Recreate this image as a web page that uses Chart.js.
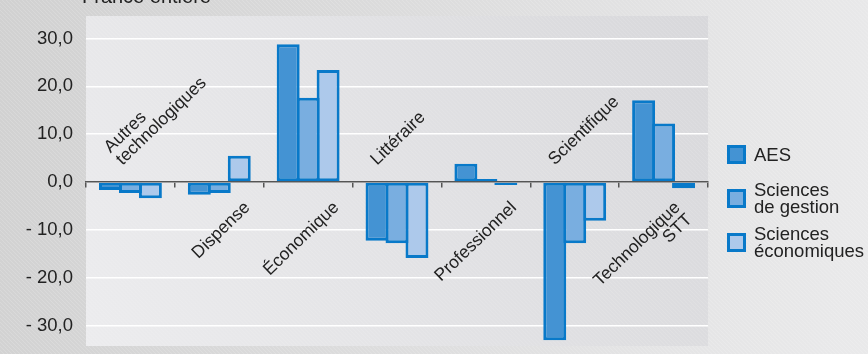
<!DOCTYPE html>
<html lang="fr">
  <head>
    <meta charset="UTF-8" />
    <title>Écarts par série de bac</title>
    <style>
      html,
      body {
        margin: 0;
        padding: 0;
        background-color: #dedede;
      }
      .chart-container {
        position: relative;
        width: 868px;
        height: 354px;
      }
    </style>
  </head>
  <body>
    <div class="chart-container">
      <canvas id="ecartChart"></canvas>
    </div>
    <script src="https://cdn.jsdelivr.net/npm/chart.js"></script>
    <script>
      const categories = [
        ["Autres", "technologiques"],
        ["Dispense"],
        ["Économique"],
        ["Littéraire"],
        ["Professionnel"],
        ["Scientifique"],
        ["Technologique", "STT"],
      ];
      const seriesNames = [["AES"], ["Sciences", "de gestion"], ["Sciences", "économiques"]];
      const aesValues = [-1.7, -2.7, 28.8, -12.3, 3.8, -33.1, 17.1];
      const gestionValues = [-2.3, -2.3, 17.6, -12.8, 0.3, -12.8, 12.2];
      const ecoValues = [-3.4, 5.5, 23.4, -15.9, -0.3, -8.1, -1.3];
      const yTickValues = [30, 20, 10, 0, -10, -20, -30];
      const yTickLabels = ["30,0", "20,0", "10,0", "0,0", "- 10,0", "- 20,0", "- 30,0"];
      const titleText = "France entière";

      const FONT = '"Liberation Sans", Arial, sans-serif';
      Chart.defaults.font.family = FONT;

      function hatch(ctx, x, y, w, h, color) {
        ctx.save();
        ctx.beginPath();
        ctx.rect(x, y, w, h);
        ctx.clip();
        ctx.strokeStyle = color;
        ctx.lineWidth = 1;
        for (let k = -h; k < w; k += 4) {
          ctx.beginPath();
          ctx.moveTo(x + k, y);
          ctx.lineTo(x + k + h, y + h);
          ctx.stroke();
        }
        ctx.restore();
      }

      // background, plot area and clipped title
      const backdrop = {
        id: "backdrop",
        beforeDraw(chart) {
          const { ctx, width, height, chartArea: a } = chart;
          ctx.save();
          let g = ctx.createLinearGradient(0, 0, width, height * 0.4);
          g.addColorStop(0, "#d1d1d1");
          g.addColorStop(1, "#e9e9ea");
          ctx.fillStyle = g;
          ctx.fillRect(0, 0, width, height);
          hatch(ctx, 0, 0, width, height, "rgba(255,255,255,0.16)");

          g = ctx.createLinearGradient(a.left, a.bottom, a.right, a.top);
          g.addColorStop(0, "#ececee");
          g.addColorStop(1, "#d8d8db");
          ctx.fillStyle = g;
          ctx.fillRect(a.left, a.top, a.width, a.height);
          hatch(ctx, a.left, a.top, a.width, a.height, "rgba(255,255,255,0.12)");

          ctx.fillStyle = "#222";
          ctx.font = "20px " + FONT;
          ctx.textAlign = "left";
          ctx.textBaseline = "alphabetic";
          ctx.fillText(titleText, 82, 2.5);
          ctx.restore();
        },
      };

      // rotated category names, on the side opposite to the bars
      const categoryLabels = {
        id: "categoryLabels",
        afterDatasetsDraw(chart) {
          const { ctx } = chart;
          const x = chart.scales.x;
          const zero = chart.scales.y.getPixelForValue(0);
          const ang = (-44 * Math.PI) / 180;
          ctx.save();
          ctx.font = "17.5px " + FONT;
          ctx.fillStyle = "#222";
          ctx.textBaseline = "alphabetic";
          categories.forEach((lines, i) => {
            const sum = aesValues[i] + gestionValues[i] + ecoValues[i];
            const cx = x.getPixelForValue(i);
            const extra = lines.length - 1;
            ctx.save();
            if (sum > 0) {
              ctx.translate(cx + 31.5 - 14 * extra, zero + 26.5);
              ctx.rotate(ang);
              ctx.textAlign = "right";
              lines.forEach((t, k) => ctx.fillText(t, 0, k * 17));
            } else {
              ctx.translate(cx - 20 + 12 * extra, zero - 16.3);
              ctx.rotate(ang);
              ctx.textAlign = "left";
              lines.forEach((t, k) => ctx.fillText(t, 0, (k - extra) * 17));
            }
            ctx.restore();
          });
          ctx.restore();
        },
      };

      const legendBlock = {
        id: "legendBlock",
        afterDraw(chart) {
          const { ctx, chartArea } = chart;
          const left = chartArea.right + 19;
          ctx.save();
          ctx.font = "18.5px " + FONT;
          chart.data.datasets.forEach((ds, i) => {
            const cy = 154.5 + i * 44;
            ctx.fillStyle = ds.borderColor;
            ctx.fillRect(left, cy - 9.5, 19, 19);
            ctx.fillStyle = ds.backgroundColor;
            ctx.fillRect(left + 3, cy - 6.5, 13, 13);
            ctx.fillStyle = "#222";
            ctx.textAlign = "left";
            ctx.textBaseline = "middle";
            const lines = seriesNames[i];
            lines.forEach((t, k) => {
              ctx.fillText(t, left + 27, cy + 1 + (k - (lines.length - 1) / 2) * 17);
            });
          });
          ctx.restore();
        },
      };

      const borderBlue = "#0879c9";
      const makeSet = (i, values, fill) => ({
        label: seriesNames[i].join(" "),
        data: values,
        backgroundColor: fill,
        borderColor: borderBlue,
        borderWidth: 3,
        borderSkipped: false,
        minBarLength: 3,
        categoryPercentage: 0.674,
        barPercentage: 1.15,
      });

      new Chart(document.getElementById("ecartChart"), {
        type: "bar",
        data: {
          labels: categories.map((l) => l.join(" ")),
          datasets: [
            makeSet(0, aesValues, "#4493d3"),
            makeSet(1, gestionValues, "#79aee0"),
            makeSet(2, ecoValues, "#adc9eb"),
          ],
        },
        options: {
          responsive: true,
          maintainAspectRatio: false,
          animation: false,
          layout: { padding: { top: 16, right: 160, bottom: 8, left: 0 } },
          plugins: {
            legend: { display: false },
            tooltip: { enabled: false },
          },
          scales: {
            x: {
              position: { y: 0 },
              offset: true,
              afterFit(scale) {
                scale.height = 0;
                scale.paddingLeft = 0;
                scale.paddingRight = 0;
              },
              grid: {
                offset: true,
                drawOnChartArea: false,
                drawTicks: true,
                tickLength: 5,
                color: "#555",
                lineWidth: 1.5,
              },
              border: { display: true, color: "#555", width: 1.5 },
              ticks: { display: false },
            },
            y: {
              min: -34.3,
              max: 34.7,
              afterBuildTicks(scale) {
                scale.ticks = yTickValues.map((v) => ({ value: v }));
              },
              afterFit(scale) {
                scale.width = 86;
                scale.paddingTop = 0;
                scale.paddingBottom = 0;
              },
              grid: { color: "#ffffff", lineWidth: 1.6, drawTicks: false },
              border: { display: false },
              ticks: {
                padding: 13,
                color: "#222",
                font: { size: 18.5 },
                callback: (v) => yTickLabels[yTickValues.indexOf(v)],
              },
            },
          },
        },
        plugins: [backdrop, categoryLabels, legendBlock],
      });
    </script>
  </body>
</html>
